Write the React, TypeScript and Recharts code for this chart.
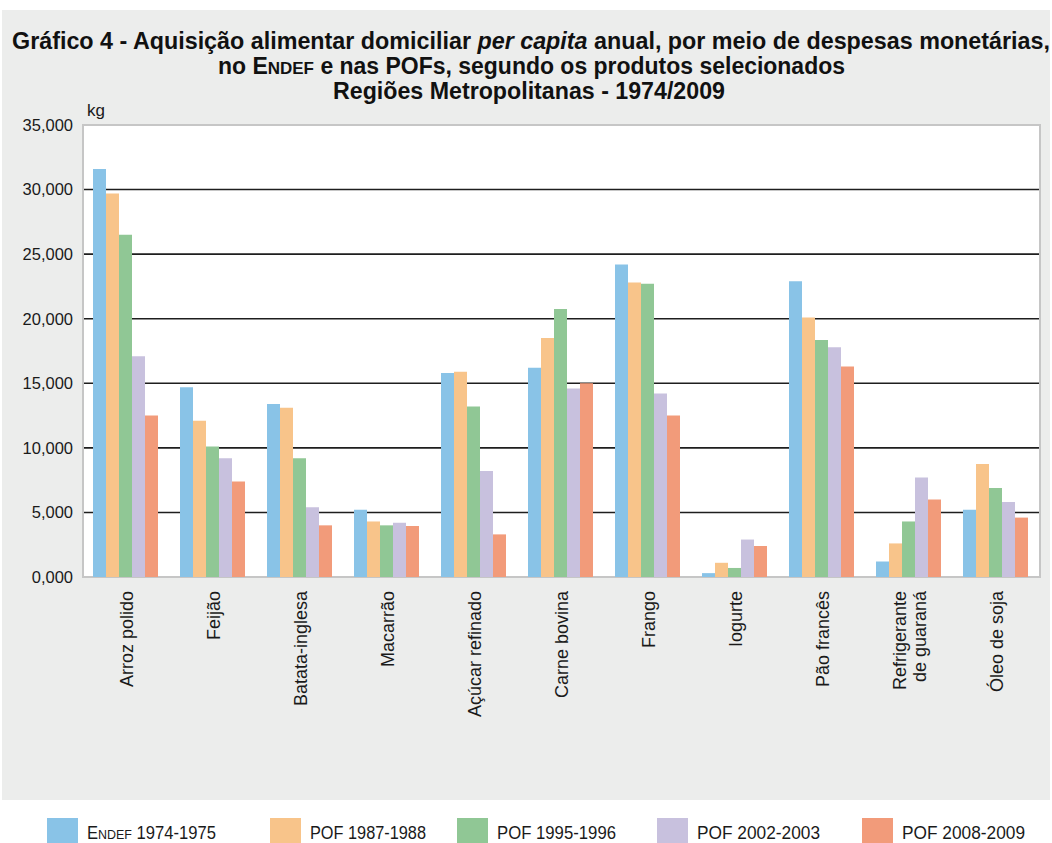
import React from "react";
import { BarChart, Bar, XAxis, YAxis, CartesianGrid, ReferenceArea } from "recharts";

const categories = [
  "Arroz polido",
  "Feijão",
  "Batata-inglesa",
  "Macarrão",
  "Açúcar refinado",
  "Carne bovina",
  "Frango",
  "Iogurte",
  "Pão francês",
  "Refrigerante\nde guaraná",
  "Óleo de soja",
];

const endef1974 = [31.6, 14.7, 13.4, 5.2, 15.8, 16.2, 24.2, 0.3, 22.9, 1.2, 5.2];
const pof1987 = [29.7, 12.1, 13.1, 4.3, 15.9, 18.5, 22.8, 1.1, 20.1, 2.6, 8.75];
const pof1995 = [26.5, 10.1, 9.2, 4.0, 13.2, 20.75, 22.7, 0.7, 18.35, 4.3, 6.9];
const pof2002 = [17.1, 9.2, 5.4, 4.2, 8.2, 14.6, 14.2, 2.9, 17.8, 7.7, 5.8];
const pof2008 = [12.5, 7.4, 4.0, 3.95, 3.3, 15.0, 12.5, 2.4, 16.3, 6.0, 4.6];

const yTicks = [0, 5, 10, 15, 20, 25, 30, 35];
const yTickLabels = ["0,000", "5,000", "10,000", "15,000", "20,000", "25,000", "30,000", "35,000"];

const seriesKeys = ["endef", "p1987", "p1995", "p2002", "p2008"];
const seriesNames = ["1974-1975", "POF 1987-1988", "POF 1995-1996", "POF 2002-2003", "POF 2008-2009"];
const seriesColors = ["#89c3e7", "#f8c48a", "#90c795", "#c8c1de", "#f29b7a"];

const data = categories.map((name, i) => ({
  name,
  endef: endef1974[i],
  p1987: pof1987[i],
  p1995: pof1995[i],
  p2002: pof2002[i],
  p2008: pof2008[i],
}));

const SANS = "'Liberation Sans', Arial, Helvetica, sans-serif";

const CategoryTick = (props: any) => {
  const { x, y, payload } = props;
  const lines = String(payload.value).split("\n");
  const spacing = 20;
  const start = -((lines.length - 1) * spacing) / 2;
  return (
    <g transform={`translate(${x},${y + 6})`}>
      {lines.map((ln, k) => (
        <text
          key={k}
          transform={`rotate(-90)`}
          x={0}
          y={start + k * spacing}
          dy="0.36em"
          textAnchor="end"
          fontSize={18}
          fontFamily={SANS}
          fill="#1a1a1a"
        >
          {ln}
        </text>
      ))}
    </g>
  );
};

const legendLefts = [47, 270, 457, 657, 862];
const legendTextLen = [129, 116, 119, 123, 123];

export default function App() {
  return (
    <div style={{ position: "absolute", left: 0, top: 0, width: 1052, height: 843, background: "#fff", overflow: "hidden" }}>
      <div style={{ position: "absolute", left: 2, top: 10, width: 1048, height: 790, background: "#ecedec" }} />
      <svg
        width={1052}
        height={843}
        style={{ position: "absolute", left: 0, top: 0 }}
        fontFamily={SANS}
      >
        <g fontWeight="bold" fontSize={23} fill="#111">
          <text x={12} y={49} textLength={1038} lengthAdjust="spacingAndGlyphs">
            Gráfico 4 - Aquisição alimentar domiciliar <tspan fontStyle="italic">per capita</tspan> anual, por meio de
            despesas monetárias,
          </text>
          <text x={218} y={74} textLength={627} lengthAdjust="spacingAndGlyphs">
            no E<tspan fontSize={17}>NDEF</tspan> e nas POFs, segundo os produtos selecionados
          </text>
          <text x={333} y={99} textLength={392} lengthAdjust="spacingAndGlyphs">
            Regiões Metropolitanas - 1974/2009
          </text>
        </g>
        <text x={87} y={116} fontSize={17} fill="#1a1a1a">
          kg
        </text>
        {seriesKeys.map((k, i) => (
          <g key={k}>
            <rect x={legendLefts[i]} y={818} width={31} height={25} fill={seriesColors[i]} />
            <text
              x={legendLefts[i] + 40}
              y={839}
              fontSize={18}
              fill="#1a1a1a"
              textLength={legendTextLen[i]}
              lengthAdjust="spacingAndGlyphs"
            >
              {i === 0 ? (
                <>
                  E<tspan fontSize={13.5}>NDEF</tspan> {seriesNames[0]}
                </>
              ) : (
                seriesNames[i]
              )}
            </text>
          </g>
        ))}
      </svg>
      <div style={{ position: "absolute", left: 0, top: 0 }}>
        <BarChart
          width={1052}
          height={843}
          data={data}
          margin={{ top: 125, right: 12, left: 23, bottom: 166 }}
          barCategoryGap={10}
          barGap={0}
        >
          <CartesianGrid vertical={false} stroke="#1e1e1e" strokeWidth={1.6} fill="#ffffff" fillOpacity={1} />
          <XAxis
            dataKey="name"
            interval={0}
            height={100}
            tickLine={false}
            axisLine={false}
            tick={<CategoryTick />}
          />
          <YAxis
            width={60}
            domain={[0, 35]}
            ticks={yTicks}
            interval={0}
            tickLine={false}
            axisLine={false}
            tickMargin={4}
            tickFormatter={(v: number) => yTickLabels[yTicks.indexOf(v)]}
            tick={{ fontSize: 16.5, fontFamily: SANS, fill: "#1a1a1a" }}
          />
          {seriesKeys.map((k, i) => (
            <Bar key={k} dataKey={k} name={seriesNames[i]} fill={seriesColors[i]} isAnimationActive={false} />
          ))}
          <ReferenceArea y1={0} y2={35} fill="none" stroke="#c6c6c6" strokeWidth={2} ifOverflow="visible" />
        </BarChart>
      </div>
    </div>
  );
}
